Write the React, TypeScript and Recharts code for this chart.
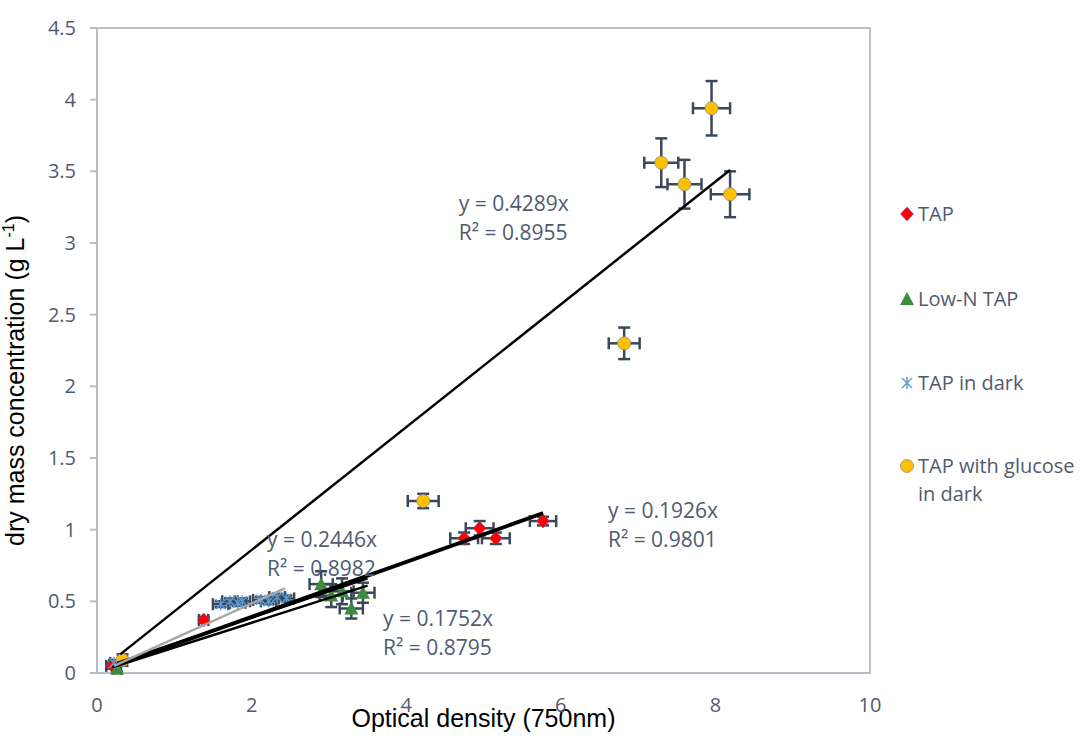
import React from "react";
import { ScatterChart, Scatter, XAxis, YAxis, ErrorBar, ReferenceArea, ReferenceDot, Label } from "recharts";

// axis ticks
const xTicks = [0, 2, 4, 6, 8, 10];
const yTicks = [0, 0.5, 1, 1.5, 2, 2.5, 3, 3.5, 4, 4.5];

// TAP
const tapX = [0.2, 1.38, 4.75, 4.95, 5.16, 5.77];
const tapY = [0.05, 0.37, 0.94, 1.01, 0.94, 1.06];
const tapErrX = [0.08, 0.06, 0.18, 0.18, 0.18, 0.17];
const tapErrY = [0.02, 0.02, 0.04, 0.05, 0.04, 0.03];

// Low-N TAP
const lowNX = [0.26, 2.9, 3.03, 3.17, 3.29, 3.44];
const lowNY = [0.03, 0.62, 0.54, 0.57, 0.45, 0.56];
const lowNErrX = [0.05, 0.15, 0.15, 0.15, 0.15, 0.15];
const lowNErrY = [0.02, 0.09, 0.08, 0.09, 0.07, 0.07];

// TAP in dark
const darkX = [0.22, 1.6, 1.72, 1.82, 1.88, 2.12, 2.22, 2.33, 2.45];
const darkY = [0.07, 0.48, 0.5, 0.49, 0.5, 0.51, 0.5, 0.53, 0.52];
const darkErrX = [0.05, 0.1, 0.1, 0.1, 0.1, 0.1, 0.1, 0.1, 0.1];
const darkErrY = [0.02, 0.02, 0.02, 0.02, 0.02, 0.02, 0.02, 0.02, 0.02];

// TAP with glucose in dark
const glucX = [0.33, 4.22, 6.82, 7.3, 7.6, 7.95, 8.19];
const glucY = [0.09, 1.2, 2.3, 3.56, 3.41, 3.94, 3.34];
const glucErrX = [0.05, 0.2, 0.2, 0.22, 0.22, 0.24, 0.25];
const glucErrY = [0.04, 0.05, 0.11, 0.17, 0.17, 0.19, 0.16];

// trendlines (end points)
const trendGluc = [{ x: 0.3, y: 0.13 }, { x: 8.19, y: 3.51 }];
const trendTap = [{ x: 0.2, y: 0.04 }, { x: 5.77, y: 1.11 }];
const trendTap2 = [{ x: 0.25, y: 0.06 }, { x: 5.77, y: 1.12 }];
const trendLowN = [{ x: 0.26, y: 0.05 }, { x: 3.5, y: 0.61 }];
const trendLowN2 = [{ x: 0.26, y: 0.07 }, { x: 3.5, y: 0.66 }];
const trendDark = [{ x: 0.22, y: 0.05 }, { x: 2.43, y: 0.59 }];

// trendline equations
const eqText = ["y = 0.4289x", "y = 0.1926x", "y = 0.2446x", "y = 0.1752x"];
const r2Text = ["R² = 0.8955", "R² = 0.9801", "R² = 0.8982", "R² = 0.8795"];
const eqX = [4.68, 6.61, 2.2, 3.7];
const eqY = [3.22, 1.08, 0.88, 0.33];

const legendNames = ["TAP", "Low-N TAP", "TAP in dark", "TAP with glucose\nin dark"];

const rows = (xs: number[], ys: number[], ex: number[], ey: number[]) =>
  xs.map((x, i) => ({ x, y: ys[i], ex: ex[i], ey: ey[i] }));

const TEXT = "#4f5b70";
const ERR = "#3b475a";
const FONT = "'Open Sans', sans-serif";
const TITLE_FONT = "'Liberation Sans', Arial, sans-serif";

const Diamond = ({ cx, cy }: any) => (
  <polygon points={`${cx},${cy - 7} ${cx + 6.5},${cy} ${cx},${cy + 7} ${cx - 6.5},${cy}`} fill="#ff0000" stroke="#6060c0" strokeWidth={0.6} />
);
const Triangle = ({ cx, cy }: any) => (
  <polygon points={`${cx},${cy - 7} ${cx + 7},${cy + 6} ${cx - 7},${cy + 6}`} fill="#3d8b3d" />
);
const Star = ({ cx, cy }: any) => (
  <g stroke="#5b9bd5" strokeWidth={1.5}>
    <line x1={cx} y1={cy - 6} x2={cx} y2={cy + 6} />
    <line x1={cx - 5} y1={cy - 5} x2={cx + 5} y2={cy + 5} />
    <line x1={cx + 5} y1={cy - 5} x2={cx - 5} y2={cy + 5} />
  </g>
);
const Dot = ({ cx, cy }: any) => <circle cx={cx} cy={cy} r={6.5} fill="#ffc000" stroke="#8c8c8c" strokeWidth={0.8} />;
const NoShape = () => <g />;

const markers = [Diamond, Triangle, Star, Dot];

function EqLabel(i: number) {
  return ({ cx, cy }: any) => (
    <text x={cx} y={cy} fill={TEXT} fontSize={21} fontFamily={FONT}>
      <tspan x={cx} dy={0}>{eqText[i]}</tspan>
      <tspan x={cx} dy={29}>{r2Text[i]}</tspan>
    </text>
  );
}

function XTitle({ viewBox }: any) {
  return (
    <text x={viewBox.x + viewBox.width / 2} y={727} textAnchor="middle" fill="#000" fontSize={25} fontFamily={TITLE_FONT}>
      Optical density (750nm)
    </text>
  );
}

function YTitle({ viewBox }: any) {
  const x = 24;
  const y = viewBox.y + viewBox.height / 2 + 30;
  return (
    <text x={x} y={y} transform={`rotate(-90 ${x} ${y})`} textAnchor="middle" fill="#000" fontSize={25} fontFamily={TITLE_FONT}>
      dry mass concentration (g L<tspan fontSize={16} dy={-10}>-1</tspan><tspan dy={10}>)</tspan>
    </text>
  );
}

export default function App() {
  const seriesRows = [
    rows(tapX, tapY, tapErrX, tapErrY),
    rows(lowNX, lowNY, lowNErrX, lowNErrY),
    rows(darkX, darkY, darkErrX, darkErrY),
    rows(glucX, glucY, glucErrX, glucErrY),
  ];
  const legendTop = [200, 285, 369, 452];
  return (
    <div style={{ position: "absolute", left: 0, top: 0, width: 1085, height: 738, background: "#fff" }}>
      <ScatterChart width={1085} height={738} margin={{ top: 28, right: 215, bottom: 15, left: 37 }}>
        <ReferenceArea x1={0} x2={10} y1={0} y2={4.5} fill="none" stroke="#bfbfbf" strokeWidth={2} />
        <XAxis type="number" dataKey="x" domain={[0, 10]} ticks={xTicks} tickLine={false} tickMargin={19} height={50}
          axisLine={{ stroke: "#b7bfcb", strokeWidth: 2 }} tick={{ fill: TEXT, fontSize: 20, fontFamily: FONT }}>
          <Label content={XTitle} />
        </XAxis>
        <YAxis type="number" dataKey="y" domain={[0, 4.5]} ticks={yTicks} width={60} tickSize={7} tickMargin={14}
          axisLine={{ stroke: "#b7bfcb", strokeWidth: 2 }} tickLine={{ stroke: "#b7bfcb", strokeWidth: 2 }}
          tick={{ fill: TEXT, fontSize: 20, fontFamily: FONT }}>
          <Label content={YTitle} />
        </YAxis>
        {seriesRows.map((d, i) => (
          <Scatter key={i} data={d} shape={markers[i]} isAnimationActive={false}>
            <ErrorBar dataKey="ex" direction="x" width={6} stroke={ERR} strokeWidth={2.5} />
            <ErrorBar dataKey="ey" direction="y" width={6} stroke={ERR} strokeWidth={2.5} />
          </Scatter>
        ))}
        {[trendGluc, trendTap, trendTap2, trendLowN, trendLowN2].map((d, i) => (
          <Scatter key={"t" + i} data={d} line={{ stroke: "#000", strokeWidth: 2.5 }} shape={NoShape} isAnimationActive={false} />
        ))}
        <Scatter data={trendDark} line={{ stroke: "#a6a6a6", strokeWidth: 2.5 }} shape={NoShape} isAnimationActive={false} />
        {eqText.map((_, i) => (
          <ReferenceDot key={"e" + i} x={eqX[i]} y={eqY[i]} r={0} shape={EqLabel(i)} />
        ))}
      </ScatterChart>
      {legendNames.map((name, i) => {
        const M = markers[i];
        return (
          <div key={name} style={{ position: "absolute", left: 898, top: legendTop[i], display: "flex", alignItems: "flex-start" }}>
            <svg width={18} height={28} style={{ flex: "none" }}>
              <M cx={9} cy={14} />
            </svg>
            <div style={{ color: TEXT, fontFamily: FONT, fontSize: 20, lineHeight: "28px", whiteSpace: "pre", marginLeft: 2 }}>{name}</div>
          </div>
        );
      })}
    </div>
  );
}
